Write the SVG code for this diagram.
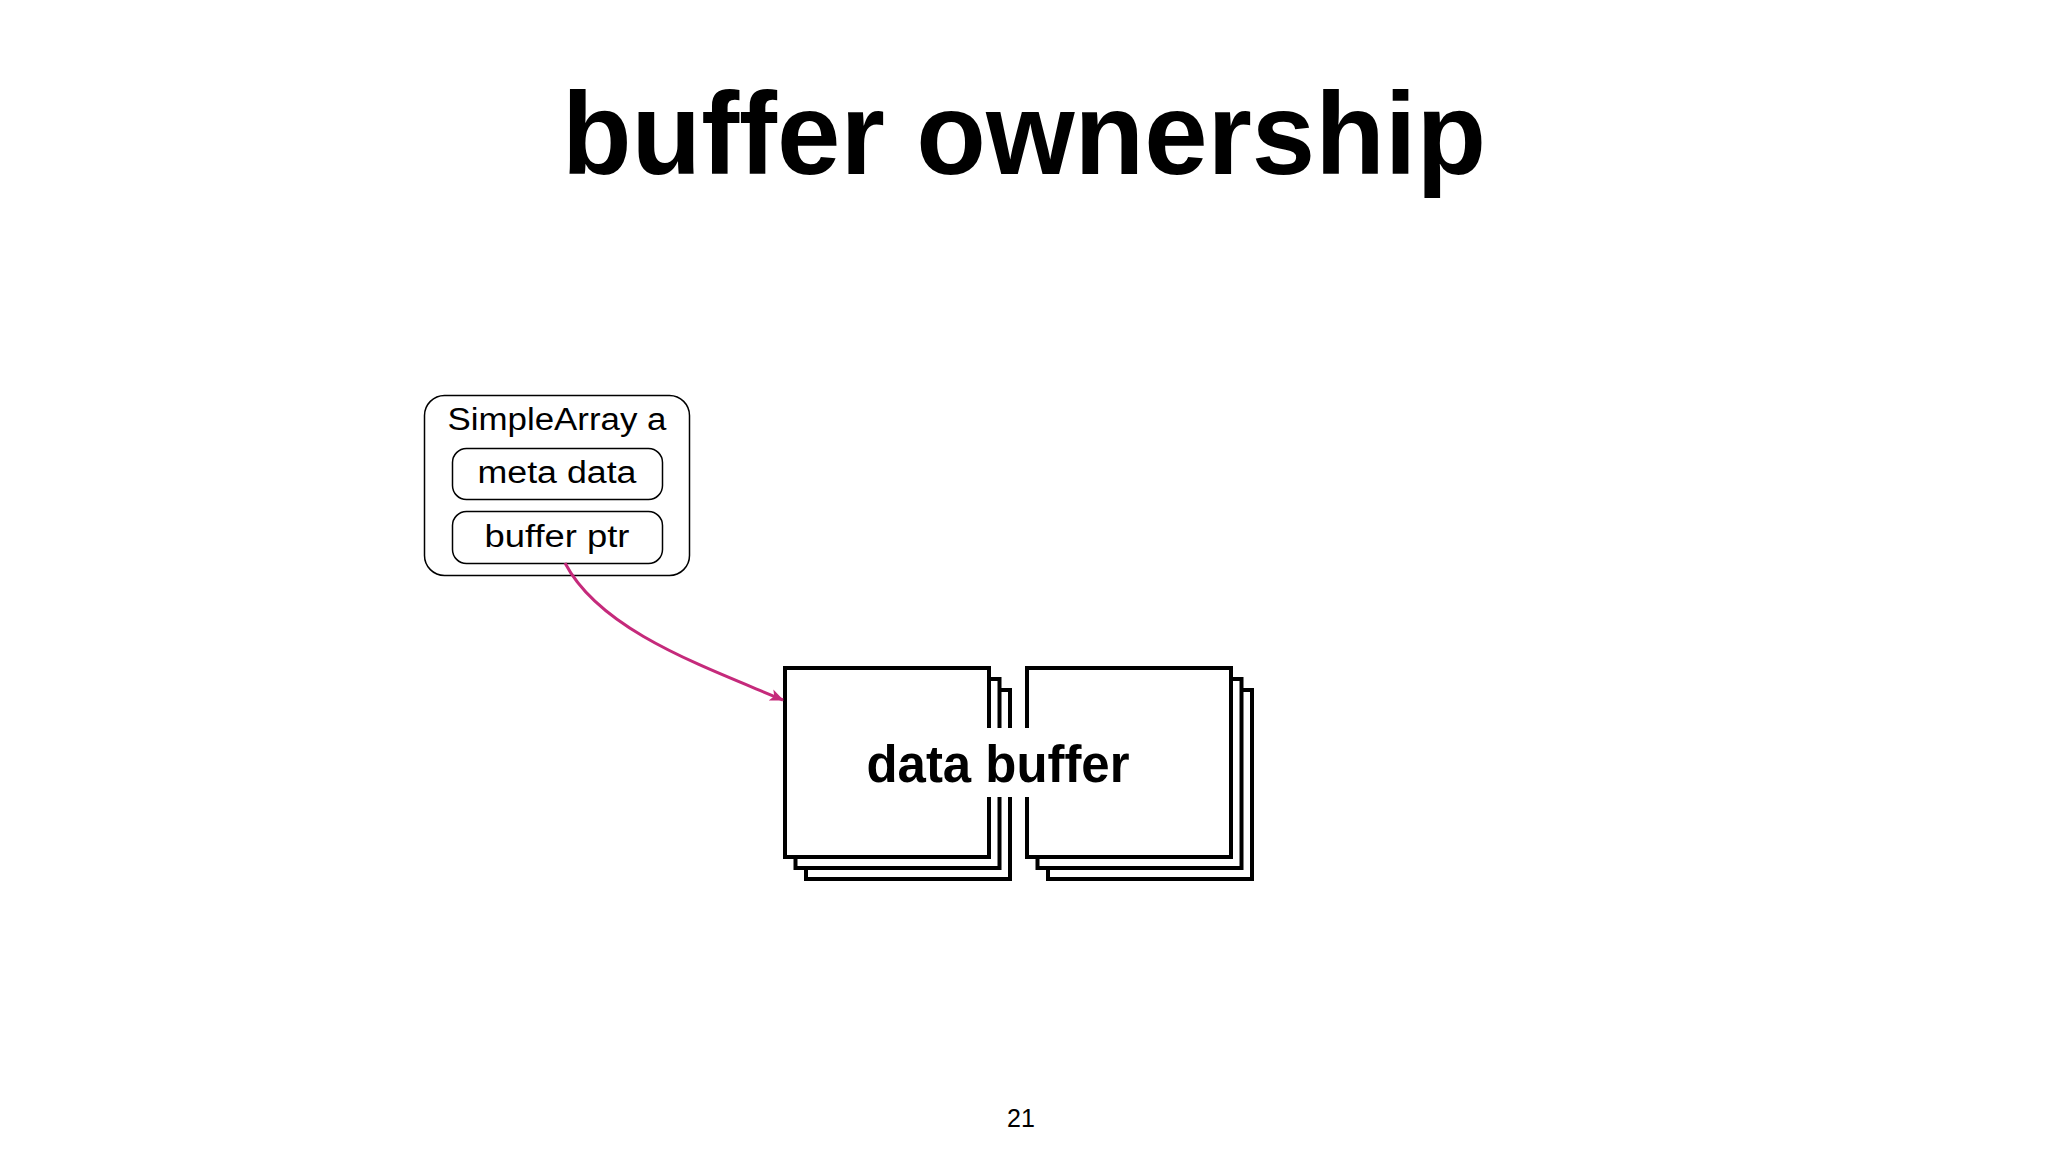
<svg xmlns="http://www.w3.org/2000/svg" width="2048" height="1152" viewBox="0 0 2048 1152">
  <defs>
    <style>
      .t { font-family: "Liberation Sans", Arial, Helvetica, sans-serif; fill: #000; }
      .box { fill: #fff; stroke: #000; stroke-width: 1.5; }
      .buf { fill: #fff; stroke: #000; stroke-width: 4; }
      .conn { fill: none; stroke: #c52a7b; stroke-width: 3; }
    </style>
    <marker id="arrow" viewBox="0 0 14 12" refX="13" refY="6" markerWidth="14" markerHeight="12" markerUnits="userSpaceOnUse" orient="auto">
      <path d="M0,0 L14,6 L0,12 L3.5,6 Z" fill="#c52a7b"/>
    </marker>
  </defs>
  <rect x="0" y="0" width="2048" height="1152" fill="#fff"/>

  <text id="title" class="t" x="1024" y="174" font-size="116" font-weight="bold" text-anchor="middle" textLength="924" lengthAdjust="spacingAndGlyphs">buffer ownership</text>

  <g id="simplearray">
    <rect class="box" x="424.5" y="395.5" width="265" height="180" rx="20"/>
    <text class="t" x="557" y="430" font-size="31" text-anchor="middle" textLength="219" lengthAdjust="spacingAndGlyphs">SimpleArray a</text>
    <g id="metadata">
      <rect class="box" x="452.5" y="448.5" width="210" height="51" rx="14"/>
      <text class="t" x="557" y="483" font-size="31" text-anchor="middle" textLength="159" lengthAdjust="spacingAndGlyphs">meta data</text>
    </g>
    <g id="bufferptr">
      <rect class="box" x="452.5" y="511.5" width="210" height="52" rx="14"/>
      <text class="t" x="557" y="547" font-size="31" text-anchor="middle" textLength="145" lengthAdjust="spacingAndGlyphs">buffer ptr</text>
    </g>
  </g>

  <g id="databuffer">
    <g id="stack-left">
      <rect class="buf" x="806" y="690" width="204" height="189"/>
      <rect class="buf" x="795.5" y="679" width="204" height="189"/>
      <rect class="buf" x="785" y="668" width="204" height="189"/>
    </g>
    <g id="stack-right">
      <rect class="buf" x="1048" y="690" width="204" height="189"/>
      <rect class="buf" x="1037.5" y="679" width="204" height="189"/>
      <rect class="buf" x="1027" y="668" width="204" height="189"/>
    </g>
    <rect x="860" y="728" width="280" height="69" fill="#fff"/>
    <text class="t" x="998" y="782" font-size="51" font-weight="bold" text-anchor="middle" textLength="263" lengthAdjust="spacingAndGlyphs">data buffer</text>
  </g>

  <g id="connectors">
    <path class="conn" d="M565,563 C600,630 700,665 783,700" marker-end="url(#arrow)"/>
  </g>

  <text id="page" class="t" x="1021" y="1127" font-size="25" text-anchor="middle">21</text>
</svg>
